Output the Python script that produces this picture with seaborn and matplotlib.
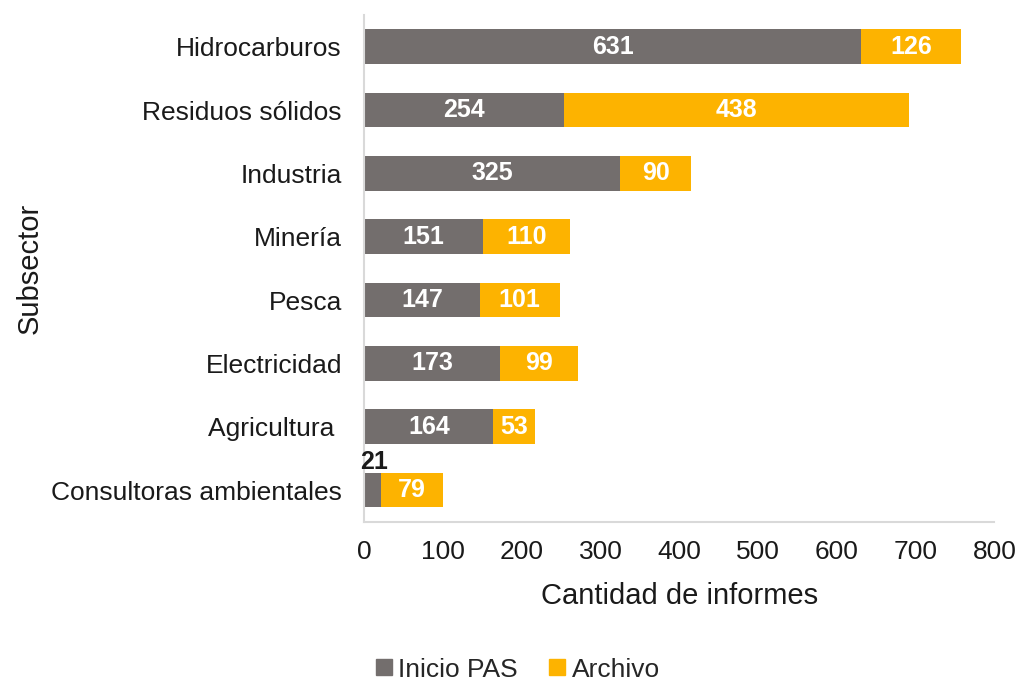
import pandas as pd
import matplotlib.pyplot as plt
import seaborn as sns
from matplotlib.lines import Line2D

# Datos
subsectores = ['Hidrocarburos', 'Residuos sólidos', 'Industria', 'Minería', 'Pesca',
               'Electricidad', 'Agricultura ', 'Consultoras ambientales']
inicio_pas = [631, 254, 325, 151, 147, 173, 164, 21]
archivo = [126, 438, 90, 110, 101, 99, 53, 79]

gris = '#736E6D'
amarillo = '#FDB300'

df = pd.DataFrame({'Subsector': subsectores, 'Inicio PAS': inicio_pas, 'Archivo': archivo})
df['Total'] = df['Inicio PAS'] + df['Archivo']

sns.set_style('white')
plt.rcParams['font.family'] = ['Liberation Sans', 'DejaVu Sans']

fig = plt.figure(figsize=(10.2, 6.82), dpi=100)
ax = fig.add_axes([0.357, 0.235, 0.618, 0.743])

# barras apiladas: total en amarillo y encima el inicio PAS en gris
sns.barplot(data=df, x='Total', y='Subsector', color=amarillo, width=0.55,
            saturation=1, ax=ax, linewidth=0)
sns.barplot(data=df, x='Inicio PAS', y='Subsector', color=gris, width=0.55,
            saturation=1, ax=ax, linewidth=0)

for i, row in df.iterrows():
    ini = row['Inicio PAS']
    arc = row['Archivo']
    if ini >= 50:
        ax.text(ini / 2, i, str(ini), color='white', fontsize=18, fontweight='bold',
                ha='center', va='center')
    else:
        ax.text(ini / 2 + 2, i - 0.45, str(ini), color='#1a1a1a', fontsize=18,
                fontweight='bold', ha='center', va='center')
    ax.text(ini + arc / 2, i, str(arc), color='white', fontsize=18, fontweight='bold',
            ha='center', va='center')

ax.set_xlim(0, 800)
ax.set_ylim(7.5, -0.5)
ax.set_xticks(range(0, 801, 100))
ax.tick_params(axis='both', labelsize=19, length=0, colors='#1a1a1a')
ax.tick_params(axis='y', pad=16)
ax.tick_params(axis='x', pad=13)
ax.set_xlabel('Cantidad de informes', fontsize=21, labelpad=13, color='#1a1a1a')
ax.set_ylabel('Subsector', fontsize=21, labelpad=5, color='#1a1a1a')

for s in ['top', 'right']:
    ax.spines[s].set_visible(False)
for s in ['left', 'bottom']:
    ax.spines[s].set_color('#D9D9D9')
    ax.spines[s].set_linewidth(1.5)

h = [Line2D([], [], marker='s', linestyle='', markersize=11, color=c) for c in (gris, amarillo)]
fig.legend(h, ['Inicio PAS', 'Archivo'], loc='center', bbox_to_anchor=(0.505, 0.018),
           ncol=2, frameon=False, fontsize=19, handletextpad=0.05, columnspacing=1.0,
           handlelength=1)

fig.savefig('out.png', dpi=100)
